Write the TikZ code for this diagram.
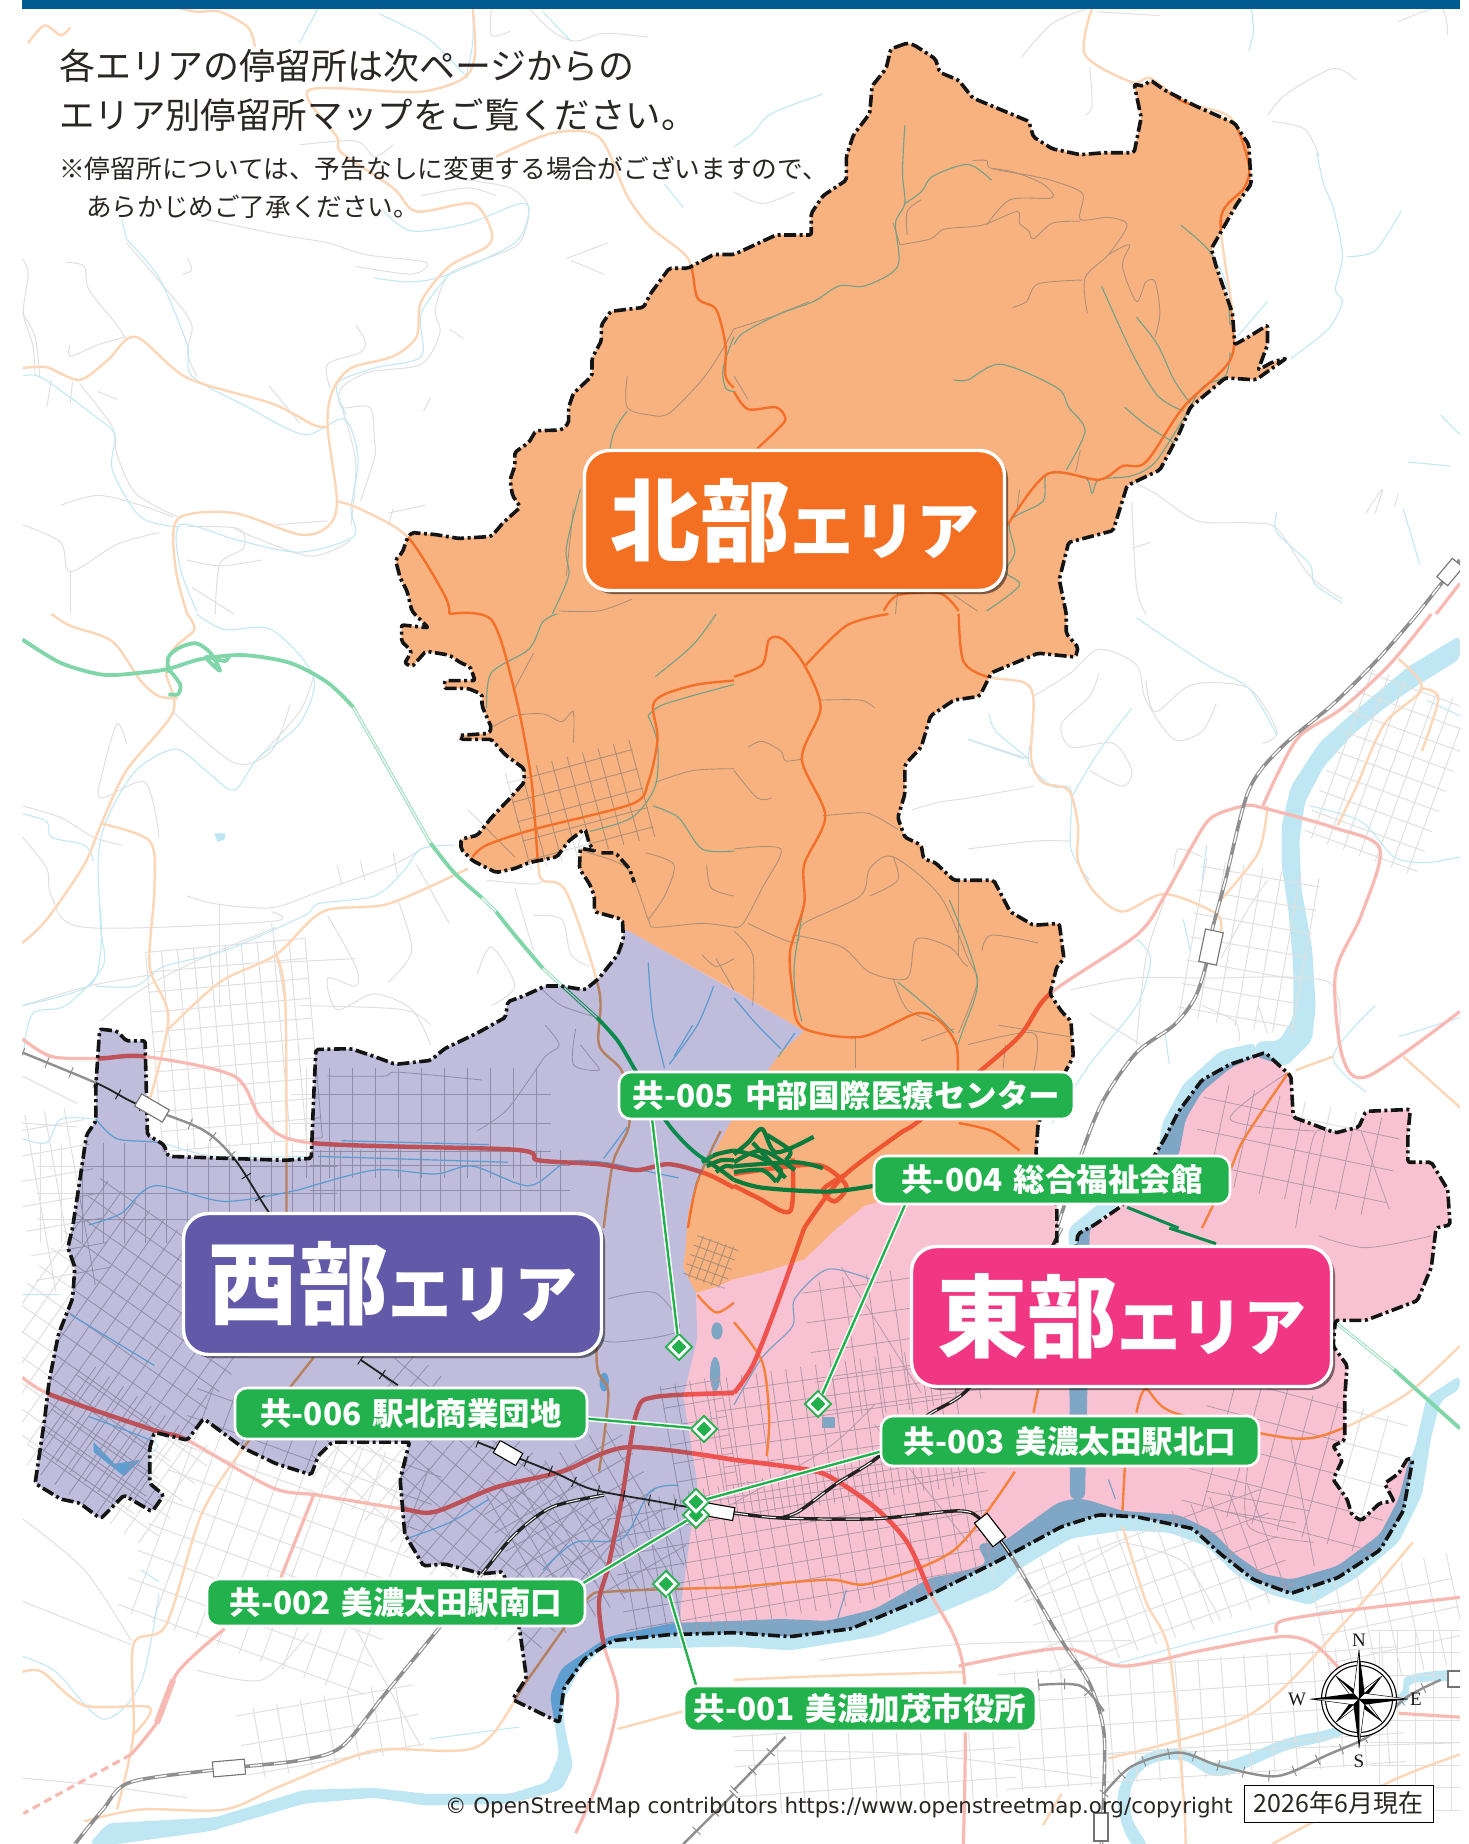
\documentclass[tikz,border=0pt]{standalone}
\usepackage{fontspec}
\setmainfont{Noto Sans CJK JP}
\newfontfamily\serifF{Liberation Serif}
\newfontfamily\osmF{DejaVu Sans}
\usetikzlibrary{shapes.geometric,shadows}
\definecolor{barC}{HTML}{005A8F}
\definecolor{inkC}{HTML}{2A2624}
\definecolor{northC}{HTML}{F36F21}
\definecolor{westC}{HTML}{625AA8}
\definecolor{eastC}{HTML}{F13783}
\definecolor{greenC}{HTML}{22B14C}
\definecolor{fillN}{HTML}{F8B27F}
\definecolor{fillW}{HTML}{BFBCDC}
\definecolor{fillE}{HTML}{F9C2D2}
\definecolor{oMin}{HTML}{E0E0E0}\definecolor{oStr}{HTML}{C2E8F4}\definecolor{oSec}{HTML}{FDD6B8}\definecolor{oMaj}{HTML}{F9B9B3}\definecolor{oRiv}{HTML}{BEE6F3}\definecolor{oExp}{HTML}{80D6A9}\definecolor{oRail}{HTML}{8F8F8F}
\definecolor{nMin}{HTML}{AE9078}\definecolor{nStr}{HTML}{72A088}\definecolor{nSec}{HTML}{F3702A}\definecolor{nMaj}{HTML}{EE5533}\definecolor{nExp}{HTML}{0B7A3B}
\definecolor{wMin}{HTML}{8F8EA8}\definecolor{wStr}{HTML}{5B9BD0}\definecolor{wSec}{HTML}{B5805F}\definecolor{wMaj}{HTML}{BC5157}\definecolor{wRiv}{HTML}{5F9ED1}\definecolor{wExp}{HTML}{0B8A4E}
\definecolor{eMin}{HTML}{B39AAA}\definecolor{eStr}{HTML}{7F9FC5}\definecolor{eSec}{HTML}{F4823C}\definecolor{eMaj}{HTML}{EF5350}\definecolor{eRiv}{HTML}{7FA6C4}
\definecolor{kRail}{HTML}{222222}
% tile coordinate systems: the crops of the reference
\def\tp#1#2#3,#4\relax{\pgfpoint{#1pt+#3*0.468pt}{-#2pt-#4*0.3916pt}}
\def\tq#1#2#3,#4\relax{\pgfpoint{#1pt+#3*0.468pt}{-#2pt-#4*0.3929pt}}
\tikzdeclarecoordinatesystem{a}{\tp{0}{0}#1\relax}
\tikzdeclarecoordinatesystem{b}{\tp{734}{0}#1\relax}
\tikzdeclarecoordinatesystem{c}{\tp{0}{614}#1\relax}
\tikzdeclarecoordinatesystem{d}{\tp{734}{614}#1\relax}
\tikzdeclarecoordinatesystem{e}{\tq{0}{1228}#1\relax}
\tikzdeclarecoordinatesystem{f}{\tq{734}{1228}#1\relax}
\tikzset{
 ta/.style={x=.468pt,y=-.3916pt},
 tb/.style={shift={(734,0)},x=.468pt,y=-.3916pt},
 tc/.style={shift={(0,614)},x=.468pt,y=-.3916pt},
 td/.style={shift={(734,614)},x=.468pt,y=-.3916pt},
 te/.style={shift={(0,1228)},x=.468pt,y=-.3929pt},
 tf/.style={shift={(734,1228)},x=.468pt,y=-.3929pt},
 rdBase/.style={line join=round},
 zoneOut/.style={
  rdMin/.style={rdBase,draw=oMin,line width=1},
  rdStr/.style={rdBase,draw=oStr,line width=1.1},
  rdSec/.style={rdBase,draw=oSec,line width=2.4},
  rdMaj/.style={rdBase,draw=oMaj,line width=3.2},
  rdRiv/.style={fill=oRiv},
  rdExp/.style={rdBase,draw=oExp,line width=3.8},
  rdTun/.style={draw=oExp,line width=3,postaction={draw=white,line width=1.4}},
  rdRail/.style={draw=oRail,line width=3.6,postaction={draw=white,line width=1.4,dash pattern=on 12pt off 12pt}},
  rdTick/.style={draw=oRail,line width=2.4,postaction={draw=oRail,line width=11,dash pattern=on 1pt off 25pt}},
 },
 zoneN/.style={
  rdMin/.style={rdBase,draw=nMin,line width=.9},
  rdStr/.style={rdBase,draw=nStr,line width=1.1},
  rdSec/.style={rdBase,draw=nSec,line width=2.4},
  rdMaj/.style={rdBase,draw=nMaj,line width=4.4},
  rdRiv/.style={fill=fillN},
  rdExp/.style={rdBase,draw=nExp,line width=4.2},
  rdTun/.style={draw=nExp,line width=3.6},
  rdRail/.style={draw=kRail,line width=3.6},
  rdTick/.style={draw=kRail,line width=2},
 },
 zoneW/.style={
  rdMin/.style={rdBase,draw=wMin,line width=.8},
  rdStr/.style={rdBase,draw=wStr,line width=1.2},
  rdSec/.style={rdBase,draw=wSec,line width=2.4},
  rdMaj/.style={rdBase,draw=wMaj,line width=4.4},
  rdRiv/.style={fill=wRiv},
  rdExp/.style={rdBase,draw=wExp,line width=3.8},
  rdTun/.style={draw=wExp,line width=3.2,postaction={draw=fillW,line width=1.2}},
  rdRail/.style={draw=kRail,line width=3.4,postaction={draw=white,line width=1,dash pattern=on 14pt off 10pt}},
  rdTick/.style={draw=kRail,line width=1.8,postaction={draw=kRail,line width=11,dash pattern=on 1pt off 25pt}},
 },
 zoneE/.style={
  rdMin/.style={rdBase,draw=eMin,line width=.8},
  rdStr/.style={rdBase,draw=eStr,line width=1.2},
  rdSec/.style={rdBase,draw=eSec,line width=2.4},
  rdMaj/.style={rdBase,draw=eMaj,line width=4.6},
  rdRiv/.style={fill=eRiv},
  rdExp/.style={rdBase,draw=wExp,line width=3},
  rdTun/.style={draw=wExp,line width=3},
  rdRail/.style={draw=kRail,line width=3.4,postaction={draw=white,line width=1,dash pattern=on 14pt off 14pt}},
  rdTick/.style={draw=kRail,line width=2},
 },
 bound/.style={draw=black!92,line width=3.6,dash pattern=on 12pt off 3.5pt on 3pt off 3.5pt,rounded corners=2pt,line join=round},
 areaBox/.style={rectangle,rounded corners=25pt,draw=white,line width=3.4,text=white,inner sep=0pt,font=\bfseries,
   drop shadow={shadow xshift=3.5pt,shadow yshift=-3.5pt,opacity=.5,fill=black}},
 stopBox/.style={rectangle,rounded corners=12pt,draw=white,line width=2.6,fill=greenC,text=white,inner sep=0pt,font=\fontsize{31.5}{32}\selectfont\bfseries},
 leader/.style={draw=white,line width=5.2,postaction={draw=greenC,line width=2.4}},
 diaOut/.style={diamond,draw=greenC,fill=white,line width=1.8,minimum size=27pt,inner sep=0pt},
 diaIn/.style={diamond,fill=greenC,minimum size=15pt,inner sep=0pt},
 stn/.style={rectangle,draw=black!55,fill=white,line width=1.1,inner sep=0pt},
 stnK/.style={rectangle,draw=black,fill=white,line width=1.1,inner sep=0pt},
 compassT/.style={font=\serifF\fontsize{19}{19}\selectfont,text=black!90,inner sep=0pt},
 noteT/.style={anchor=base west,text=inkC,inner sep=0pt},
}
\newcommand\T[2]{\begin{scope}[t#1]#2\end{scope}}
\newcommand\R[2]{\draw[#1] plot[smooth,tension=.5] coordinates {#2};}
\newcommand\Rm[1]{\R{rdMin}{#1}}
\newcommand\Rs[1]{\R{rdStr}{#1}}
\newcommand\Rc[1]{\R{rdSec}{#1}}
\newcommand\Rj[1]{\R{rdMaj}{#1}}
% street grid: cx cy halfw halfh angle step
\newcommand\Grid[6]{%
 \begin{scope}[shift={(#1,#2)},rotate=#5]
 \pgfmathtruncatemacro\gnx{#3/#6}\pgfmathtruncatemacro\gny{#4/(#6*1.25)}%
 \pgfmathtruncatemacro\gmx{-\gnx}\pgfmathtruncatemacro\gmy{-\gny}%
 \foreach \gi in {\gmx,...,\gnx}{\draw[rdMin] ({\gi*#6},{-#4})--({\gi*#6},{#4});}
 \foreach \gi in {\gmy,...,\gny}{\draw[rdMin] ({-#3},{\gi*#6*1.25})--({#3},{\gi*#6*1.25});}
 \end{scope}}
\def\Outer{(b cs:370,110)--(b cs:335,125)--(b cs:325,175)--(b cs:295,220)--(b cs:290,290)--(b cs:255,345)--(b cs:240,400)--(b cs:240,460)--(b cs:190,500)--(b cs:165,545)--(b cs:165,600)--(b cs:90,600)--(b cs:45,625)--(b cs:0,650)--(a cs:1525,650)--(a cs:1470,685)--(a cs:1430,685)--(a cs:1390,750)--(a cs:1375,785)--(a cs:1305,795)--(a cs:1285,830)--(a cs:1285,870)--(a cs:1265,915)--(a cs:1265,960)--(a cs:1225,1005)--(a cs:1215,1040)--(a cs:1215,1080)--(a cs:1200,1098)--(a cs:1145,1100)--(a cs:1130,1130)--(a cs:1100,1155)--(a cs:1100,1190)--(a cs:1090,1225)--(a cs:1095,1265)--(a cs:1112,1295)--(a cs:1075,1335)--(a cs:1050,1370)--(a cs:980,1375)--(a cs:930,1365)--(a cs:880,1360)--(a cs:870,1375)--(a cs:860,1410)--(a cs:845,1430)--(a cs:855,1475)--(a cs:870,1510)--(a cs:880,1560)--(c cs:890,5)--(c cs:915,35)--(c cs:858,28)--(c cs:858,70)--(c cs:880,95)--(c cs:865,125)--(c cs:880,135)--(c cs:910,95)--(c cs:960,105)--(c cs:985,125)--(c cs:1005,135)--(c cs:1015,170)--(c cs:950,170)--(c cs:950,190)--(c cs:1000,190)--(c cs:1030,205)--(c cs:1030,235)--(c cs:1050,290)--(c cs:1045,305)--(c cs:980,310)--(c cs:985,320)--(c cs:1050,320)--(c cs:1080,360)--(c cs:1120,395)--(c cs:1120,430)--(c cs:1090,470)--(c cs:1050,520)--(c cs:1020,565)--(c cs:985,575)--(c cs:985,600)--(c cs:1010,630)--(c cs:1060,660)--(c cs:1100,650)--(c cs:1130,635)--(c cs:1190,620)--(c cs:1215,580)--(c cs:1250,548)--(c cs:1260,590)--(c cs:1272,605)--(c cs:1240,598)--(c cs:1238,650)--(c cs:1260,690)--(c cs:1270,720)--(c cs:1270,760)--(c cs:1300,770)--(c cs:1330,780)--(c cs:1332,830)--(c cs:1320,870)--(c cs:1280,930)--(c cs:1250,960)--(c cs:1200,950)--(c cs:1165,950)--(c cs:1120,975)--(c cs:1085,990)--(c cs:1080,1030)--(c cs:1020,1070)--(c cs:950,1110)--(c cs:920,1140)--(c cs:845,1150)--(c cs:800,1130)--(c cs:750,1110)--(c cs:675,1112)--(c cs:670,1240)--(c cs:665,1390)--(c cs:610,1395)--(c cs:360,1385)--(c cs:350,1355)--(c cs:315,1330)--(c cs:310,1090)--(c cs:270,1090)--(c cs:250,1065)--(c cs:213,1060)--(c cs:205,1200)--(c cs:205,1295)--(c cs:185,1330)--(c cs:170,1450)--(c cs:155,1568)--(e cs:145,50)--(e cs:160,100)--(e cs:155,180)--(e cs:125,270)--(e cs:105,390)--(e cs:95,490)--(e cs:80,610)--(e cs:75,650)--(e cs:130,690)--(e cs:170,700)--(e cs:215,740)--(e cs:265,680)--(e cs:325,722)--(e cs:350,680)--(e cs:320,650)--(e cs:320,560)--(e cs:330,520)--(e cs:400,540)--(e cs:435,485)--(e cs:520,560)--(e cs:590,600)--(e cs:665,628)--(e cs:680,580)--(e cs:710,545)--(e cs:875,545)--(e cs:855,640)--(e cs:865,780)--(e cs:905,860)--(e cs:950,855)--(e cs:1030,880)--(e cs:1075,875)--(e cs:1110,1020)--(e cs:1125,1145)--(e cs:1095,1200)--(e cs:1195,1258)--(e cs:1205,1170)--(e cs:1250,1095)--(e cs:1310,1050)--(e cs:1430,1035)--(e cs:1568,1030)--(f cs:120,1040)--(f cs:250,1020)--(f cs:400,945)--(f cs:560,850)--(f cs:700,760)--(f cs:780,730)--(f cs:860,735)--(f cs:980,765)--(f cs:1040,830)--(f cs:1110,895)--(f cs:1190,930)--(f cs:1290,890)--(f cs:1380,820)--(f cs:1430,720)--(f cs:1450,590)--(f cs:1440,585)--(f cs:1420,625)--(f cs:1390,650)--(f cs:1410,695)--(f cs:1380,700)--(f cs:1340,745)--(f cs:1320,730)--(f cs:1310,690)--(f cs:1280,640)--(f cs:1300,590)--(f cs:1280,555)--(f cs:1305,540)--(f cs:1305,430)--(f cs:1310,350)--(f cs:1280,300)--(f cs:1285,235)--(f cs:1350,235)--(f cs:1460,185)--(f cs:1490,100)--(f cs:1500,0)--(d cs:1530,1560)--(d cs:1525,1470)--(d cs:1490,1400)--(d cs:1440,1400)--(d cs:1440,1330)--(d cs:1445,1265)--(d cs:1350,1270)--(d cs:1335,1310)--(d cs:1285,1325)--(d cs:1195,1285)--(d cs:1190,1180)--(d cs:1135,1120)--(d cs:1060,1150)--(d cs:1000,1190)--(d cs:950,1270)--(d cs:920,1340)--(d cs:900,1380)--(d cs:830,1510)--(d cs:770,1560)--(f cs:735,15)--(f cs:725,100)--(f cs:690,40)--(d cs:690,1510)--(d cs:645,1380)--(d cs:650,1300)--(d cs:725,1130)--(d cs:720,1040)--(d cs:700,1015)--(d cs:675,970)--(d cs:690,900)--(d cs:705,880)--(d cs:695,790)--(d cs:640,795)--(d cs:590,760)--(d cs:555,680)--(d cs:470,680)--(d cs:430,635)--(d cs:405,625)--(d cs:400,590)--(d cs:365,570)--(d cs:350,520)--(d cs:365,460)--(d cs:365,385)--(d cs:400,340)--(d cs:420,260)--(d cs:470,220)--(d cs:525,210)--(d cs:550,150)--(d cs:650,100)--(d cs:730,110)--(d cs:735,85)--(d cs:710,50)--(d cs:710,0)--(b cs:695,1480)--(b cs:715,1385)--(b cs:810,1355)--(b cs:840,1240)--(b cs:910,1200)--(b cs:950,1110)--(b cs:975,1040)--(b cs:1050,965)--(b cs:1115,970)--(b cs:1180,915)--(b cs:1150,925)--(b cs:1120,945)--(b cs:1140,880)--(b cs:1140,830)--(b cs:1100,860)--(b cs:1070,880)--(b cs:1065,800)--(b cs:1030,680)--(b cs:1020,635)--(b cs:1075,520)--(b cs:1105,470)--(b cs:1100,370)--(b cs:1070,315)--(b cs:985,270)--(b cs:920,230)--(b cs:890,205)--(b cs:875,220)--(b cs:855,215)--(b cs:870,300)--(b cs:855,390)--(b cs:790,390)--(b cs:740,395)--(b cs:680,380)--(b cs:640,350)--(b cs:630,310)--(b cs:510,250)--(b cs:480,205)--(b cs:440,185)--(b cs:430,150)--(b cs:385,115)--cycle}
\def\ZoneN{(c cs:1345,810)--(c cs:1568,960)--(d cs:150,1065)--(d cs:100,1120)--(c cs:1560,1300)--(c cs:1490,1450)--(c cs:1470,1530)--(e cs:1465,50)--(e cs:1460,100)--(e cs:1487,165)--(e cs:1530,150)--(f cs:0,130)--(f cs:70,110)--(f cs:150,80)--(f cs:220,0)--(d cs:280,1510)--(d cs:650,1400)--(d cs:800,1050)--(1468,1000)--(1468,0)--(0,0)--(c cs:800,0)--(c cs:900,650)--cycle}
\def\ZoneW{(c cs:1200,700)--(c cs:1345,810)--(d cs:150,1065)--(d cs:100,1120)--(c cs:1560,1300)--(c cs:1490,1450)--(c cs:1470,1530)--(e cs:1465,50)--(e cs:1460,100)--(e cs:1487,165)--(e cs:1490,280)--(e cs:1460,430)--(e cs:1490,650)--(e cs:1455,960)--(e cs:1450,1100)--(e cs:1300,1400)--(0,1844)--(0,800)--cycle}
\newcommand\RiverFills{%
 \path[rdRiv,rounded corners=6pt] (d cs:1551,55)--(d cs:1440,135)--(d cs:1380,195)--(d cs:1310,265)--(d cs:1250,330)--(d cs:1190,440)--(d cs:1170,540)--(d cs:1170,640)--(d cs:1185,760)--(d cs:1195,900)--(d cs:1195,1030)--(d cs:1165,1090)--(d cs:1115,1092)--(d cs:1115,1130)--(d cs:1180,1155)--(d cs:1235,1090)--(d cs:1243,1000)--(d cs:1235,850)--(d cs:1212,700)--(d cs:1208,580)--(d cs:1220,480)--(d cs:1260,390)--(d cs:1320,310)--(d cs:1390,240)--(d cs:1450,190)--(d cs:1551,115)--cycle;
 \path[rdRiv,rounded corners=6pt] (d cs:1115,1095)--(d cs:1040,1115)--(d cs:960,1200)--(d cs:915,1300)--(d cs:905,1385)--(f cs:715,0)--(f cs:718,690)--(f cs:750,690)--(f cs:755,410)--(f cs:760,0)--(d cs:950,1385)--(d cs:965,1290)--(d cs:1000,1220)--(d cs:1060,1160)--(d cs:1115,1130)--cycle;
 \path[rdRiv,rounded corners=6pt] (f cs:1551,375)--(f cs:1480,430)--(f cs:1455,560)--(f cs:1440,600)--(f cs:1420,690)--(f cs:1380,780)--(f cs:1290,860)--(f cs:1190,895)--(f cs:1130,880)--(f cs:1070,830)--(f cs:1020,770)--(f cs:950,730)--(f cs:830,720)--(f cs:750,690)--(f cs:720,690)--(f cs:690,700)--(f cs:620,760)--(f cs:580,795)--(f cs:520,805)--(f cs:540,855)--(f cs:470,880)--(f cs:420,890)--(f cs:300,970)--(f cs:200,1000)--(f cs:100,995)--(f cs:0,1000)--(e cs:1440,1005)--(e cs:1300,1040)--(e cs:1200,1120)--(e cs:1175,1190)--(e cs:1185,1260)--(e cs:1195,1340)--(e cs:1170,1410)--(e cs:1090,1440)--(e cs:910,1440)--(e cs:800,1425)--(e cs:650,1430)--(e cs:460,1500)--(e cs:230,1515)--(e cs:190,1568)--(e cs:250,1568)--(e cs:450,1535)--(e cs:650,1465)--(e cs:800,1450)--(e cs:910,1470)--(e cs:1090,1465)--(e cs:1200,1430)--(e cs:1225,1370)--(e cs:1210,1290)--(e cs:1205,1255)--(e cs:1205,1200)--(e cs:1240,1120)--(e cs:1290,1070)--(e cs:1400,1070)--(e cs:1568,1065)--(f cs:120,1075)--(f cs:300,1040)--(f cs:430,985)--(f cs:560,920)--(f cs:620,860)--(f cs:720,790)--(f cs:830,770)--(f cs:930,775)--(f cs:1010,810)--(f cs:1070,880)--(f cs:1140,930)--(f cs:1230,960)--(f cs:1330,890)--(f cs:1420,800)--(f cs:1470,680)--(f cs:1490,530)--(f cs:1510,440)--(f cs:1551,410)--cycle;
 \draw[rdRiv,draw=none] plot[smooth cycle,tension=.6] coordinates {(f cs:1551,1125)(f cs:1440,1140)(f cs:1418,1190)(f cs:1290,1268)(f cs:1180,1300)(f cs:1040,1360)(f cs:960,1328)(f cs:880,1340)(f cs:825,1420)(f cs:825,1500)(f cs:850,1568)(f cs:880,1568)(f cs:850,1500)(f cs:850,1420)(f cs:890,1365)(f cs:960,1355)(f cs:1040,1395)(f cs:1180,1330)(f cs:1290,1295)(f cs:1430,1210)(f cs:1450,1160)(f cs:1551,1150)};
 \T{e}{\path[rdRiv] (200,545)--(245,600)--(300,590)--(265,632)--(200,570)--cycle;
  \path[rdRiv] (1291,392) ellipse [x radius=10,y radius=24]; \path[rdRiv] (1528,372) ellipse [x radius=11,y radius=44];\path[rdRiv] (1532,262) ellipse [x radius=12,y radius=22];}
 \T{f}{\path[rdRiv] (188,482) rectangle (215,510);}
 \T{c}{\path[rdRiv] (458,560)--(482,560)--(480,575)--(465,582)--cycle;}
}
\newcommand\RoadsMinor{%
 \T{a}{\Rm{(1130,20)(1180,80)(1230,105)(1290,85)(1385,95)}\Rm{(1050,20)(1050,90)(1090,80)}\Rm{(1000,460)(1090,480)(1130,530)(1110,620)(1040,660)(960,700)(930,790)(940,850)(900,930)(790,950)(730,990)(730,1040)(790,1040)(800,1120)(800,1170)(770,1280)}\Rm{(960,840)(990,865)}\Rm{(48,660)(60,700)(50,800)(70,880)(75,960)}\Rm{(140,670)(180,680)(190,740)(250,830)(270,870)}\Rm{(150,880)(150,910)(210,880)(270,860)}\Rm{(400,660)(410,690)(390,700)}\Rm{(170,980)(240,1090)(250,1160)(290,1260)(380,1320)}\Rm{(48,800)(75,860)(85,965)}\Rm{(110,970)(100,1040)}\Rm{(155,975)(150,1030)}\Rm{(210,1000)(250,1020)}\Rm{(270,620)(370,760)(410,830)(400,900)(420,960)}\Rm{(440,560)(600,600)(700,620)(780,650)(910,670)(880,700)(760,680)}\Rm{(760,830)(780,870)(770,900)(700,930)(705,990)}\Rm{(1210,660)(1300,620)}\Rm{(1220,665)(1290,700)}\Rm{(575,985)(640,1080)}\Rm{(920,1015)(905,1050)}\Rm{(48,1340)(130,1385)(150,1460)(250,1390)(340,1360)}\Rm{(130,1290)(210,1265)(300,1290)(370,1320)}\Rm{(150,1460)(150,1568)}\Rm{(400,1345)(510,1350)(520,1400)(470,1440)(460,1568)}\Rm{(400,1430)(470,1445)(560,1430)}\Rm{(410,1500)(500,1568)}\Rm{(730,1040)(760,1180)(750,1340)}\Rm{(830,1310)(870,1300)(910,1290)}\Rm{(840,1300)(830,1340)}\Rm{(590,1340)(700,1330)}\Rm{(500,1350)(660,1420)(750,1380)}\Rm{(1340,960)(1340,1040)(1390,1060)(1430,1055)(1500,970)(1540,900)(1568,840)}\Rm{(1225,1300)(1210,1470)}\Rm{(1195,1560)(1280,1560)(1350,1530)}\Rm{(640,370)(760,360)(800,400)(840,370)}\Rm{(900,500)(1000,480)(1060,500)}}
 \T{b}{\Rm{(615,145)(680,60)(760,20)}\Rm{(775,30)(910,40)}\Rm{(1140,295)(1180,240)(1280,175)(1330,205)}\Rm{(1150,310)(1220,330)(1250,400)}\Rm{(760,170)(765,270)(750,295)}\Rm{(1420,55)(1510,20)(1525,90)}\Rm{(850,1230)(900,1260)(990,1330)(1100,1335)(1160,1350)(1230,1470)(1300,1530)}\Rm{(850,1400)(890,1385)}\Rm{(850,1280)(860,1500)(880,1568)}\Rm{(1350,1310)(1385,1250)(1370,1310)}\Rm{(1410,1295)(1420,1260)}\Rm{(0,490)(60,520)(130,490)}\Rm{(510,410)(540,410)(550,430)(640,450)(690,465)(745,495)(740,560)(800,555)(840,575)(800,650)(750,710)(755,800)}\Rm{(745,715)(650,725)(625,770)(595,785)}\Rm{(355,625)(420,610)(450,585)(530,575)(605,540)(610,570)(630,590)(640,610)(680,570)(740,565)}\Rm{(370,600)(370,540)(400,510)}\Rm{(340,570)(355,625)}\Rm{(540,575)(590,510)(680,505)(660,470)(600,440)(550,430)}\Rm{(800,650)(845,625)(830,680)(860,770)(880,720)(900,720)(910,800)(900,860)}\Rm{(0,840)(90,805)(160,770)}\Rm{(0,960)(30,1020)}\Rm{(730,1205)(740,1150)}\Rm{(610,1250)(605,1300)}\Rm{(350,1510)(345,1568)}\Rm{(470,1520)(520,1560)}}
 \T{c}{\Rm{(48,490)(130,520)(200,570)(260,590)}\Rm{(48,570)(100,650)(110,720)(180,800)(580,785)(580,760)}\Rm{(270,330)(250,280)(220,400)(215,470)(310,430)(340,570)}\Rm{(370,250)(500,380)(580,350)(620,230)}\Rm{(670,160)(640,250)(550,370)}\Rm{(400,720)(460,740)(580,750)(680,710)(840,640)(900,600)}\Rm{(470,740)(470,1000)}\Rm{(580,790)(610,1000)}\Rm{(720,640)(730,690)}\Rm{(770,630)(780,680)}\Rm{(840,610)(850,670)}\Rm{(890,640)(960,790)}\Rm{(850,730)(880,860)(830,940)}\Rm{(700,770)(760,900)(760,950)(700,930)(720,1010)(800,970)(880,1010)(920,1100)}\Rm{(1020,920)(1050,850)(1100,950)(1050,1000)}\Rm{(1140,770)(1200,780)(1220,870)(1260,900)}\Rm{(1040,680)(1140,690)(1160,680)}\Rm{(1100,700)(1140,860)}\Rm{(640,1000)(860,1010)(920,1050)}\Rm{(590,890)(760,880)}\Rm{(48,1000)(190,950)(330,920)}\Rm{(215,1040)(300,960)(430,880)(590,800)}\Rm{(165,1250)(48,1180)}\Rm{(48,1300)(165,1310)}\Rm{(1100,620)(1000,500)}\Rm{(1165,1050)(1195,1100)(1165,1130)(1130,1190)(1080,1270)(1020,1320)}\Rm{(1230,1060)(1225,1150)(1280,1165)(1260,1130)(1240,1100)}\Rm{(1160,960)(1200,1000)(1275,1030)}\Rm{(700,1180)(820,1180)(850,1170)(1030,1190)}\Rm{(1100,190)(1140,100)}\Rm{(1050,290)(1100,260)(1160,255)(1200,275)(1225,250)(1225,330)}\Rm{(1400,430)(1480,400)(1568,395)}\Rm{(1250,560)(1240,600)(1340,650)(1385,780)(1400,800)(1500,790)(1568,800)}\Rm{(1380,610)(1440,640)(1420,720)(1385,780)}\Rm{(1510,640)(1520,700)(1568,720)}\Rm{(1500,870)(1530,900)(1568,880)}\Rm{(1530,880)(1568,960)}}
 \T{d}{\Rm{(640,210)(720,150)(780,90)(860,130)(880,220)(940,320)(1000,300)(1030,230)}\Rm{(780,150)(760,210)(700,280)(720,340)(810,330)(850,400)(830,440)(760,400)}\Rm{(500,320)(630,370)}\Rm{(640,440)(500,470)(440,480)(380,500)}\Rm{(500,600)(640,580)(720,580)}\Rm{(880,170)(900,250)(980,180)(1100,190)(1160,300)(1130,330)}\Rm{(720,960)(850,930)(1000,930)(1270,940)(1290,1100)}\Rm{(1000,620)(950,600)(940,650)}\Rm{(1140,680)(1100,750)(1040,880)}\Rm{(920,730)(880,880)(860,1100)}\Rm{(760,1020)(870,1100)}\Rm{(1000,1000)(1070,1040)(1080,1090)}\Rm{(1120,1000)(1140,1070)}\Rm{(0,400)(50,470)(80,470)}\Rm{(0,600)(100,600)(60,700)(20,790)(0,800)}\Rm{(30,790)(130,840)(150,790)(270,720)(290,650)(340,620)(440,720)(500,880)(520,940)(480,1070)}\Rm{(30,340)(60,325)(100,350)(110,375)(145,370)}\Rm{(190,515)(240,510)(290,510)(350,550)}\Rm{(130,820)(230,850)(290,915)(370,930)(390,830)(460,850)(490,890)(500,900)}\Rm{(180,220)(270,220)(300,240)}\Rm{(340,620)(350,680)(290,720)}\Rm{(480,680)(480,870)}\Rm{(530,860)(550,820)(650,840)}\Rm{(0,810)(40,870)(40,1000)}\Rm{(340,930)(370,1010)(430,1040)}\Rm{(260,1080)(260,1160)}\Rm{(400,1090)(470,1060)}\Rm{(500,1100)(640,1070)(640,1170)}\Rm{(565,1050)(720,1080)}\Rm{(580,1100)(575,1160)}\Rm{(1185,1170)(1060,1290)(1240,1320)}\Rm{(1290,1330)(1240,1330)(1200,1568)}\Rm{(1340,1320)(1400,1520)}}
 \T{e}{\Rm{(48,740)(180,870)(280,1050)}\Rm{(48,950)(280,1060)}\Rm{(660,1030)(560,1150)(420,1125)}\Rm{(760,1020)(900,1320)}\Rm{(1300,180)(1400,165)(1450,260)(1320,290)(1270,280)}\Rm{(1040,640)(1150,740)(1260,870)}\Rm{(48,1400)(220,1420)(400,1450)}}
 \T{f}{\Rm{(180,1100)(480,1060)(850,1050)}\Rm{(600,950)(830,800)}\Rm{(830,800)(960,850)(1040,1000)}\Rm{(0,1330)(400,1340)(780,1400)}\Rm{(800,1340)(1280,1320)(1551,1310)}\Rm{(0,700)(200,560)(300,450)}\Rm{(300,500)(500,800)}\Rm{(1010,670)(1230,720)}\Rm{(1100,590)(1100,760)(1240,800)}\Rm{(1190,535)(1240,860)}\Rm{(1040,720)(1200,750)}\Rm{(1250,20)(1350,50)(1490,20)}\Rm{(400,420)(300,230)(230,100)}}
}
\newcommand\Grids{%
 \Grid{804}{1542}{190}{70}{10}{15}\Grid{840}{1432}{120}{70}{8}{15}\Grid{900}{1340}{90}{70}{8}{24}
 \Grid{468}{1503}{150}{80}{-40}{17}\Grid{585}{1530}{80}{80}{30}{17}\Grid{117}{1346}{110}{130}{-35}{17}\Grid{117}{1455}{80}{60}{-35}{17}
 \Grid{421}{1123}{130}{55}{0}{23}\Grid{187}{1193}{150}{50}{0}{21}\Grid{440}{1190}{130}{40}{0}{20}
 \Grid{580}{805}{65}{50}{15}{16}\Grid{280}{1541}{130}{120}{-20}{23}\Grid{1155}{1581}{130}{60}{20}{20}
 \Grid{234}{1045}{80}{100}{5}{16}\Grid{1202}{1718}{200}{60}{4}{23}\Grid{874}{1757}{140}{50}{4}{24}
 \Grid{1390}{771}{60}{90}{-20}{17}\Grid{1249}{947}{60}{80}{-10}{19}\Grid{1390}{1621}{70}{55}{12}{23}
 \Grid{711}{1262}{22}{22}{-20}{8}\Grid{1295}{1463}{100}{70}{-15}{26}\Grid{1295}{1150}{100}{50}{-12}{26}
 \Grid{1415}{1720}{45}{90}{0}{18}\Grid{60}{1200}{38}{90}{10}{20}\Grid{330}{1730}{90}{35}{10}{24}\Grid{700}{1440}{30}{60}{10}{15}
}
\newcommand\RoadsStream{%
 \T{a}{\Rs{(50,960)(90,965)(200,1060)(245,1110)(240,1200)(300,1320)(380,1345)}\Rs{(270,610)(340,710)(400,880)(410,960)(530,1040)(650,1110)(735,1070)(765,1170)(750,1300)(755,1370)(640,1410)(510,1380)(385,1340)(385,1450)(420,1560)}\Rs{(810,35)(910,95)(960,150)(1000,200)}\Rs{(640,110)(680,20)}\Rs{(1010,20)(1010,110)(995,200)}\Rs{(820,540)(880,590)(1000,570)(1110,520)(1130,540)(1100,620)(960,700)(880,720)(800,710)}\Rs{(960,700)(900,800)(900,910)(800,940)(720,980)(740,1060)}\Rs{(1160,30)(1220,105)}\Rs{(1420,470)(1460,530)}\Rs{(260,560)(270,610)}\Rs{(1340,1050)(1310,1110)(1290,1240)}\Rs{(1240,1250)(1210,1400)(1215,1470)(1180,1568)}\Rs{(1568,860)(1545,940)(1550,990)(1568,1000)}}
 \T{b}{\Rs{(0,375)(40,340)(80,290)(190,240)}\Rs{(1245,390)(1260,470)(1280,530)(1300,650)(1285,740)(1300,770)(1270,840)(1190,915)}\Rs{(1310,655)(1370,640)(1425,540)}\Rs{(1140,770)(1075,860)}\Rs{(1440,1180)(1530,1190)}\Rs{(1510,1060)(1551,1110)}\Rs{(1105,20)(1110,80)(1100,130)}\Rs{(1160,1310)(1160,1360)(1230,1440)(1240,1490)(1300,1540)}\Rs{(1430,1300)(1465,1440)}\Rs{(365,320)(360,440)(365,520)(345,570)(350,680)(280,730)(225,730)(170,770)(100,800)(20,850)(0,880)}\Rs{(365,520)(400,490)(425,450)(500,420)(550,460)}\Rs{(785,730)(850,900)(905,1010)(960,1050)}\Rs{(860,810)(905,880)(940,970)(975,1030)}\Rs{(835,1040)(880,1085)(940,1130)}\Rs{(470,970)(500,970)(570,930)(690,990)(715,1040)(750,1100)(710,1200)}\Rs{(955,575)(1015,640)(1050,720)(1060,830)}\Rs{(1060,900)(1050,960)(1000,990)(960,1070)(900,1180)(850,1215)(780,1225)(765,1260)(750,1220)(670,1210)(660,1280)(590,1330)(600,1410)(580,1460)(610,1495)(540,1560)}}
 \T{c}{\Rs{(420,0)(480,40)(580,40)(670,160)(640,280)(550,370)(500,450)(440,400)(375,345)(290,400)(230,520)(210,620)(215,800)(220,900)(140,1000)(70,1020)(50,1120)}\Rs{(215,750)(215,860)(190,950)(48,1000)}\Rs{(48,510)(100,530)(110,570)(180,590)(200,630)}\Rs{(205,950)(290,950)(350,900)(480,860)(650,770)(680,740)(800,720)(860,660)(900,600)(970,590)}\Rs{(48,1340)(100,1350)(130,1290)(205,1290)}\Rs{(1040,240)(1050,150)(1130,90)(1160,20)(1190,0)}\Rs{(1400,160)(1480,80)(1530,0)}\Rs{(1385,260)(1420,230)(1568,180)}\Rs{(1385,260)(1405,330)(1400,440)(1350,520)(1260,555)}\Rs{(1395,490)(1450,520)(1500,600)(1568,605)}\Rs{(1385,890)(1395,1030)(1420,1160)}\Rs{(1480,1050)(1440,1130)}\Rs{(1525,950)(1490,1050)(1430,1150)}\Rs{(205,1290)(250,1340)(340,1350)(460,1385)(660,1385)}\Rs{(730,1345)(1045,1355)}\Rs{(680,1385)(1085,1400)}\Rs{(640,1470)(800,1420)(930,1430)(1010,1410)(1130,1460)(1210,1400)(1290,1400)(1370,1420)(1450,1440)}\Rs{(190,1560)(260,1530)(330,1460)(480,1500)(640,1470)}\Rs{(1290,1390)(1340,1310)}}
 \T{d}{\Rs{(860,10)(1010,130)(1100,190)(1160,310)}\Rs{(545,255)(560,300)(630,370)}\Rs{(500,320)(620,370)}\Rs{(640,300)(630,380)(680,440)(720,450)(720,600)(760,680)}\Rs{(850,240)(780,350)(720,470)}\Rs{(1010,590)(1000,680)}\Rs{(960,780)(975,860)}\Rs{(860,830)(890,880)(860,1000)(760,1150)(680,1300)}\Rs{(920,1060)(930,1150)}\Rs{(1230,490)(1340,530)(1410,620)(1480,635)(1551,620)}\Rs{(1370,1000)(1280,1130)(1350,1220)}\Rs{(1551,260)(1480,220)}\Rs{(1420,1080)(1551,1030)}\Rs{(460,730)(500,850)(520,950)(490,1060)(478,1100)}\Rs{(150,740)(130,880)(130,960)(145,1040)}\Rs{(350,940)(420,1010)(470,1070)}\Rs{(0,980)(50,1050)(100,1110)}\Rs{(130,1070)(95,1130)}}
 \T{e}{\Rs{(150,220)(330,350)}\Rs{(190,480)(330,545)(325,570)}\Rs{(870,790)(960,750)(1045,690)}\Rs{(1160,870)(1230,800)(1330,790)(1390,670)(1450,655)}\Rs{(48,1090)(120,1130)(220,1250)(300,1160)(340,930)}\Rs{(920,1300)(1110,1270)}\Rs{(300,870)(340,900)}\Rs{(48,170)(130,170)}}
 \T{f}{\Rs{(0,450)(60,330)(125,250)(130,180)(200,105)(290,130)}\Rs{(800,640)(815,690)}\Rs{(240,920)(220,1000)}\Rs{(800,1115)(1000,1050)(1280,970)}}
}
\newcommand\RoadsSecond{%
 \T{a}{\Rc{(60,110)(95,65)(130,90)(150,70)}\Rc{(380,20)(420,30)(470,30)(530,70)(545,120)}\Rc{(1010,20)(1015,140)(990,200)(890,235)(660,230)(720,350)(730,390)(840,480)(890,540)(1010,520)(1050,590)(1040,630)(960,680)(900,770)(890,860)(840,910)(750,940)(710,1000)(700,1090)(720,1280)(700,1345)(640,1365)(500,1310)(380,1325)(375,1450)(400,1568)}\Rc{(48,940)(100,938)(170,970)(230,920)(290,860)(400,965)(580,1030)(670,1085)(700,1090)}\Rc{(720,1280)(770,1300)(870,1370)(950,1520)(960,1568)}\Rc{(1060,400)(1180,340)(1280,350)(1340,500)(1390,580)(1470,660)(1490,760)(1530,790)(1550,880)(1550,960)(1568,990)}}
 \T{b}{\Rc{(765,20)(750,140)(850,210)(890,200)(960,260)(1060,300)(1100,420)(1090,480)(1040,560)(1065,800)(1060,920)(960,1040)(880,1180)(830,1190)(780,1225)(670,1210)(585,1340)}\Rc{(320,1560)(350,1520)(440,1515)(480,1560)}\Rc{(0,1000)(30,1045)(90,1040)(110,1070)(90,1100)(50,1145)}}
 \T{c}{\Rc{(110,0)(150,30)(240,70)(300,170)(340,210)(380,215)}\Rc{(400,0)(415,40)(370,90)(355,150)(370,250)(270,400)(215,540)(180,640)(100,780)(48,840)}\Rc{(215,535)(320,580)(330,700)(320,900)(360,1030)(320,1240)}\Rc{(1000,650)(830,740)(690,760)(590,870)(470,940)(360,1060)}\Rc{(590,870)(610,1000)(612,1568)}\Rc{(960,0)(1050,15)(1100,200)(1135,420)(1150,640)(1160,680)(1210,710)(1280,960)(1280,1100)(1330,1170)(1345,1300)(1310,1400)(1290,1568)}\Rc{(1010,620)(1040,590)(1140,550)(1350,485)(1385,430)(1405,320)(1395,235)(1420,205)(1490,180)(1568,170)}\Rc{(1470,1568)(1490,1450)(1540,1320)}}
 \T{d}{\Rc{(0,160)(60,130)(75,65)(105,65)(150,130)(185,240)(145,370)(195,515)(150,640)(150,740)(120,860)(125,960)(145,1055)(270,1080)(390,1020)(440,1040)(475,1100)(478,1170)}\Rc{(150,135)(240,30)(330,0)}\Rc{(480,0)(490,120)(540,160)(620,175)(640,220)(635,370)(660,430)(715,450)(735,540)(735,630)(770,710)(830,760)(920,715)(1030,765)(1040,810)}\Rc{(1040,730)(1120,610)(1140,490)}\Rc{(1290,540)(1330,440)(1390,280)(1470,190)(1420,115)}\Rc{(1470,190)(1505,215)(1470,350)}\Rc{(1200,1165)(1280,1130)}\Rc{(1430,1130)(1551,1260)}\Rc{(480,1300)(550,1320)(610,1370)}\Rc{(1185,1170)(1090,1340)(1060,1420)(1000,1568)}\Rc{(1035,810)(1035,850)}}
 \T{e}{\Rc{(1280,0)(1275,340)(1300,420)(1280,620)}\Rc{(670,330)(520,560)(430,730)(355,1010)(285,1060)(285,1290)(250,1480)}\Rc{(48,1130)(90,1130)(180,1215)(320,1220)(285,1290)}\Rc{(180,1510)(300,1480)(480,1480)(600,1420)(800,1330)(1020,1320)(1130,1145)(1250,950)(1310,925)(1568,915)}\Rc{(1320,1275)(1460,1230)}\Rc{(1568,190)(1530,215)(1490,170)}}
 \T{f}{\Rc{(0,915)(200,895)(290,905)(470,820)(600,620)}\Rc{(640,470)(650,410)}\Rc{(830,720)(835,610)}\Rc{(860,470)(880,410)(940,470)(1190,535)(1300,510)(1440,420)(1551,300)}\Rc{(830,760)(880,950)(930,1080)(960,1440)(965,1568)}\Rc{(1450,800)(1300,1010)(1100,1240)(800,1350)}\Rc{(490,1130)(200,1140)(0,1150)}\Rc{(1551,1340)(1400,1410)(1150,1568)}\Rc{(0,240)(60,340)(75,480)(70,580)}\Rc{(660,1520)(700,1440)}}
}
\newcommand\RoadsMajor{%
 \T{c}{\Rj{(48,1085)(110,1130)(210,1135)(310,1130)(500,1180)(560,1290)(660,1350)(1100,1368)(1150,1395)(1280,1405)(1360,1420)(1430,1405)(1510,1430)(1568,1465)}}
 \T{b}{\Rj{(1551,1490)(1500,1568)}}
 \T{d}{\Rj{(0,1460)(50,1490)(120,1525)(125,1390)}\Rj{(0,1430)(120,1410)(190,1410)(240,1460)(215,1500)(190,1470)(240,1430)}\Rj{(150,1568)(230,1440)(350,1330)(400,1290)(600,1090)(675,970)(860,820)(920,720)(980,590)(1020,520)(1090,490)(1130,495)(1280,545)(1380,600)(1340,770)(1285,920)(1300,1130)(1355,1180)(1551,1015)}\Rj{(1130,490)(1165,400)(1210,310)(1300,240)(1400,130)(1490,0)}}
 \T{e}{\Rj{(48,380)(110,425)(330,515)(400,540)(580,660)(680,680)(860,715)(930,722)(1060,660)(1200,620)(1340,558)(1568,590)}\Rj{(1568,420)(1400,430)(1360,470)(1330,680)(1300,860)(1280,950)(1290,1060)(1320,1200)(1280,1400)(1230,1540)}\Rj{(670,680)(600,890)}\Rj{(480,1020)(380,1130)(340,1250)(280,1340)}\draw[rdMaj,dash pattern=on 8pt off 5pt] (280,1340)--(50,1490);\draw[rdMaj,line width=6] (370,1150)--(335,1260);}
 \T{f}{\Rj{(0,590)(130,610)(200,630)(300,710)(370,800)(420,930)(490,1120)(490,1568)}\Rj{(0,420)(40,350)(90,200)(150,0)}\Rj{(480,1115)(700,1070)(830,1115)(1000,1075)(1170,1040)(1240,1060)(1300,1130)}\Rj{(1160,1030)(1170,1000)(1300,975)(1551,940)}\Rj{(1420,1235)(1551,1245)}}
}
\newcommand\RoadsExpress{%
 \T{c}{\R{rdExp}{(48,65)(130,125)(220,155)(300,150)(360,140)(430,115)(520,105)(620,125)(700,175)(755,238)}\R{rdExp}{(360,150)(360,110)(385,85)(420,75)(450,100)(470,145)(440,110)(480,120)(490,105)}\R{rdExp}{(360,140)(385,180)(380,205)(360,205)}\draw[rdTun] (755,238)--(920,585);\R{rdExp}{(920,585)(970,660)(1030,725)}\draw[rdTun] (1030,725)--(1060,760);\R{rdExp}{(1060,760)(1100,820)(1160,905)}\draw[rdTun] (1160,905)--(1275,1030);\R{rdExp}{(1275,1030)(1320,1090)(1360,1170)(1425,1298)(1480,1370)(1540,1420)(1568,1445)}\R{rdExp}{(1500,1400)(1530,1380)(1568,1370)}\R{rdExp}{(1510,1410)(1540,1395)(1568,1395)}\R{rdExp}{(1530,1425)(1550,1410)(1568,1412)}}
 \T{d}{\R{rdExp}{(0,1380)(30,1350)(60,1315)(90,1375)(170,1335)}\R{rdExp}{(0,1410)(130,1400)(190,1415)}\R{rdExp}{(0,1445)(60,1465)(200,1475)(300,1460)}\R{rdExp}{(0,1400)(60,1370)(130,1420)}\R{rdExp}{(40,1350)(110,1440)}\R{rdExp}{(0,1370)(50,1385)(100,1420)(90,1450)}\R{rdExp}{(0,1425)(60,1420)(90,1450)}\R{rdExp}{(70,1330)(120,1370)(110,1395)}\R{rdExp}{(840,1515)(950,1568)}}
 \T{f}{\R{rdExp}{(930,0)(1030,40)}\draw[rdTun] (1285,240)--(1410,360);\R{rdExp}{(1410,360)(1551,510)}}
}
\newcommand\Rails{%
 \T{b}{\R{rdRail}{(1460,1568)(1551,1430)}}
 \T{d}{\R{rdRail}{(1460,0)(1380,110)(1280,230)(1170,340)(1100,450)(1050,680)(1020,815)(1010,890)(985,980)(940,1050)(860,1120)(790,1240)(745,1370)(690,1568)}}
 \T{f}{\R{rdRail}{(700,0)(600,230)(500,410)(410,480)(300,590)(220,650)(140,720)(100,738)}\R{rdRail}{(0,725)(100,738)(300,740)(480,720)(530,745)(590,830)(700,1050)(760,1160)(790,1280)(790,1440)(785,1568)}\R{rdTick}{(790,1440)(850,1370)(950,1335)(1040,1370)(1160,1395)(1270,1340)(1360,1290)(1430,1200)(1510,1150)}\R{rdTick}{(650,1163)(740,1165)(790,1230)}\R{rdTick}{(0,1430)(110,1295)}}
 \T{c}{\R{rdTick}{(48,1120)(210,1200)(290,1250)(430,1315)(500,1390)(570,1520)(640,1640)}}
 \T{e}{\R{rdTick}{(770,335)(850,400)}\R{rdTick}{(1020,545)(1180,620)(1265,665)(1400,695)(1470,710)(1568,725)}\R{rdRail}{(1290,680)(1180,710)(1100,780)(1030,880)(930,1030)(820,1190)(730,1320)(640,1355)(490,1375)(280,1410)(220,1480)(160,1568)}\R{rdTick}{(1568,1440)(1460,1568)}}
}
\newcommand\MapLayer{\RiverFills\RoadsMinor\Grids\RoadsStream\RoadsSecond\RoadsMajor\RoadsExpress\Rails}
\begin{document}
\begin{tikzpicture}[x=1pt,y=-1pt]
\useasboundingbox (0,0) rectangle (1468,1844);
\fill[white] (0,0) rectangle (1468,1844);
\begin{scope}
 \clip (22,9) rectangle (1460,1844);
 \begin{scope}[zoneOut]\MapLayer\end{scope}
 \begin{scope}
  \clip[rounded corners=2pt] \Outer;
  \begin{scope}[zoneE]\fill[fillE] (0,0) rectangle (1468,1844);\MapLayer\end{scope}
  \begin{scope}[zoneW]\clip \ZoneW;\fill[fillW] (0,0) rectangle (1468,1844);\MapLayer\end{scope}
  \begin{scope}[zoneN]\clip \ZoneN;\fill[fillN] (0,0) rectangle (1468,1844);\RoadsMinor\Grids\RoadsStream\RoadsSecond\RoadsMajor\RoadsExpress\end{scope}
 \end{scope}
 \draw[bound] \Outer;
 \draw[bound] (c cs:1285,610)--(c cs:1315,610)--(c cs:1345,650)--(c cs:1355,685);
 % stations
 \node[stn,minimum width=18pt,minimum height=33pt,rotate=-12] (stA) at (1211,947) {};
 \node[stn,minimum width=32pt,minimum height=14pt,rotate=-30] (stB) at (152,1108) {};
 \node[stn,minimum width=32pt,minimum height=15pt,rotate=5] (stC) at (229,1768) {};
 \node[stnK,minimum width=26pt,minimum height=14pt,rotate=-30] (stD) at (508,1453) {};
 \node[stnK,minimum width=36pt,minimum height=13pt,rotate=-10] (stE) at (716,1511) {};
 \node[stnK,minimum width=30pt,minimum height=16pt,rotate=-52] (stF) at (990,1530) {};
 \node[stn,minimum width=14pt,minimum height=28pt] (stG) at (1101,1827) {};
 \node[stn,minimum width=16pt,minimum height=16pt] (stH) at (1456,1679) {};
 \node[stn,minimum width=14pt,minimum height=24pt,rotate=-40] (stI) at (1450,572) {};
\end{scope}
% top bar
\fill[barC] (22,0) rectangle (1460,9);
% note text
\node[noteT,font=\fontsize{36}{37}\selectfont] (note1) at (59,79) {各エリアの停留所は次ページからの};
\node[noteT,font=\fontsize{35.4}{37}\selectfont] (note2) at (59,128) {エリア別停留所マップをご覧ください。};
\node[noteT,font=\fontsize{25.7}{27}\selectfont] (note3) at (59,178) {※停留所については、予告なしに変更する場合がございますので、};
\node[noteT,font=\fontsize{25.6}{27}\selectfont] (note4) at (86,216) {あらかじめご了承ください。};
% stop diamonds
\node[diaOut] (d5) at (679,1347) {};\node[diaIn] (d5i) at (679,1347) {};
\node[diaOut] (d6) at (704,1429) {};\node[diaIn] (d6i) at (704,1429) {};
\node[diaOut] (d4) at (818,1404) {};\node[diaIn] (d4i) at (818,1404) {};
\node[diaOut] (d2) at (696,1515) {};\node[diaIn] (d2i) at (696,1515) {};
\node[diaOut] (d3) at (696,1502) {};\node[diaIn] (d3i) at (696,1502) {};
\node[diaOut] (d1) at (666,1584) {};\node[diaIn] (d1i) at (666,1584) {};
\coordinate (c5) at (651,1110);\coordinate (c4) at (908,1198);\coordinate (c3) at (890,1449);\coordinate (c6) at (580,1418);\coordinate (c2) at (575,1588);\coordinate (c1) at (699,1695);
\draw[leader] (c5)--(d5);\draw[leader] (c4)--(d4);\draw[leader] (c3)--(d3);\draw[leader] (c6)--(d6);\draw[leader] (c2)--(d2);\draw[leader] (c1)--(d1);
% stop labels
\node[stopBox,minimum width=455pt,minimum height=47pt] (l5) at (846.5,1095.5) {共-005\hspace{.35em}中部国際医療センター};
\node[stopBox,minimum width=356pt,minimum height=48pt] (l4) at (1052,1180) {共-004\hspace{.35em}総合福祉会館};
\node[stopBox,minimum width=378pt,minimum height=50pt] (l3) at (1070,1441) {共-003\hspace{.35em}美濃太田駅北口};
\node[stopBox,minimum width=352pt,minimum height=51pt] (l6) at (411,1413.5) {共-006\hspace{.35em}駅北商業団地};
\node[stopBox,minimum width=378pt,minimum height=47pt] (l2) at (396,1602.5) {共-002\hspace{.35em}美濃太田駅南口};
\node[stopBox,minimum width=352pt,minimum height=45pt] (l1) at (860,1708.5) {共-001\hspace{.35em}美濃加茂市役所};
% area labels
\node[areaBox,fill=northC,minimum width=420pt,minimum height=140pt] (north) at (794.5,520.5) {\fontsize{90}{90}\selectfont 北部\fontsize{63}{63}\selectfont エリア};
\node[areaBox,fill=westC,minimum width=418pt,minimum height=141pt] (west) at (392.5,1284) {\fontsize{90}{90}\selectfont 西部\fontsize{63}{63}\selectfont エリア};
\node[areaBox,fill=eastC,minimum width=420pt,minimum height=140pt] (east) at (1121.5,1316.5) {\fontsize{90}{90}\selectfont 東部\fontsize{63}{63}\selectfont エリア};
% compass
\begin{scope}[shift={(1359,1699)}]
 \draw[black,line width=1.1,fill=white] (0,0) circle (37.5);
 \draw[black,line width=1.1] (0,0) circle (33.5);
 \foreach \ca in {45,135,225,315}{
  \fill[black] (0,0)--(\ca:33)--(\ca+45:6)--cycle;
  \draw[black,fill=white,line width=.5] (0,0)--(\ca:33)--(\ca-45:6)--cycle;}
 \foreach \ca in {0,90,180,270}{
  \draw[black,fill=white,line width=.5] (0,0)--(\ca:49)--(\ca-45:8)--cycle;
  \fill[black] (0,0)--(\ca:49)--(\ca+45:8)--cycle;}
\end{scope}
\node[compassT] (cN) at (1359,1640) {N};
\node[compassT] (cS) at (1359,1761) {S};
\node[compassT] (cW) at (1297,1699) {W};
\node[compassT] (cE) at (1416,1699) {E};
% credits
\node[anchor=base west,inner sep=0pt,text=inkC,font=\osmF\fontsize{21.4}{22}\selectfont] (osm) at (445,1813) {© OpenStreetMap contributors https://www.openstreetmap.org/copyright};
\node[rectangle,draw=black,fill=white,line width=1,minimum width=189pt,minimum height=37pt,inner sep=0pt,text=inkC,font=\fontsize{25}{25}\selectfont] (year) at (1338.5,1803.5) {2026年6月現在};
\end{tikzpicture}
\end{document}
